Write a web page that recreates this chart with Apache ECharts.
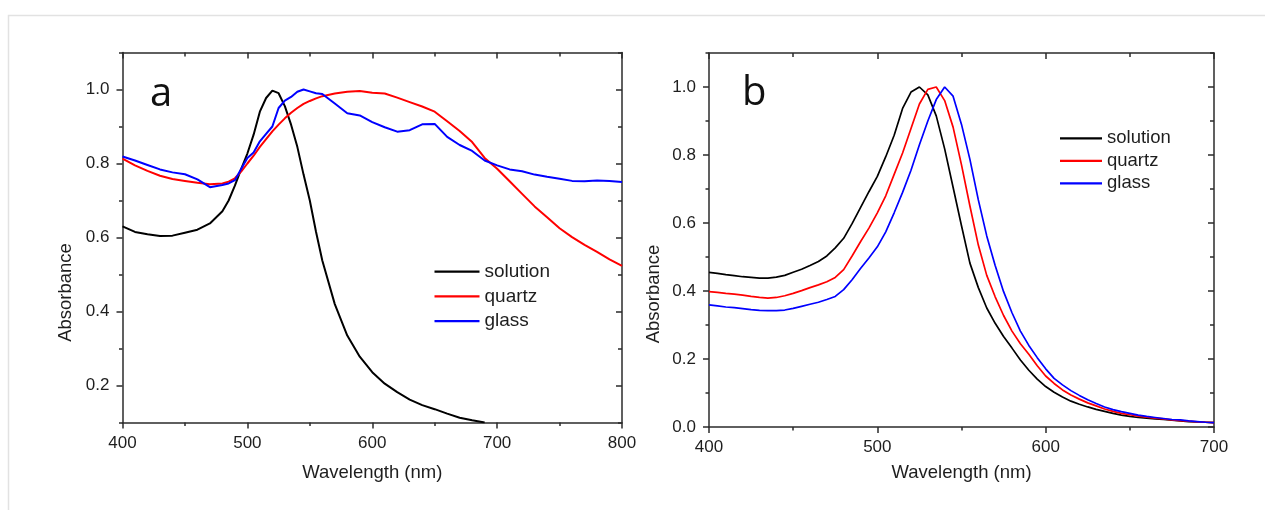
<!DOCTYPE html>
<html>
<head>
<meta charset="utf-8">
<title>Absorbance spectra</title>
<script src="https://cdn.jsdelivr.net/npm/echarts@6/dist/echarts.min.js"></script>
<style>
  html, body { margin: 0; padding: 0; background: #fff; }
  #chart { width: 1265px; height: 510px; }
</style>
</head>
<body>
<div id="chart"></div>
<script>
// 面板 a：实测吸收光谱 (nm / 吸光度)
const aWavelength = [400, 410, 420, 430, 440, 450, 460, 470, 480, 485, 490, 495, 500, 505, 510, 515, 520,
  525, 530, 535, 540, 545, 550, 555, 560, 570, 580, 590, 600, 610, 620, 630, 640, 650, 660, 670,
  680, 690, 700, 710, 720, 730, 740, 750, 760, 770, 780, 790, 800];
const aSolution = [0.630, 0.615, 0.609, 0.604, 0.605, 0.613, 0.621, 0.638, 0.671, 0.700, 0.740, 0.785,
  0.827, 0.878, 0.940, 0.977, 0.997, 0.990, 0.955, 0.905, 0.845, 0.770, 0.700, 0.615, 0.538, 0.420,
  0.335, 0.278, 0.236, 0.205, 0.182, 0.162, 0.147, 0.136, 0.124, 0.113, 0.106, 0.100,
  null, null, null, null, null, null, null, null, null, null, null];
const aQuartz = [0.813, 0.795, 0.780, 0.767, 0.758, 0.753, 0.748, 0.744, 0.746, 0.751, 0.760, 0.778,
  0.800, 0.821, 0.845, 0.866, 0.887, 0.905, 0.922, 0.937, 0.950, 0.961, 0.969, 0.976, 0.982, 0.989,
  0.994, 0.996, 0.991, 0.989, 0.978, 0.966, 0.954, 0.940, 0.914, 0.888, 0.858, 0.815, 0.786, 0.752,
  0.718, 0.684, 0.655, 0.625, 0.601, 0.580, 0.561, 0.541, 0.523];
const aGlass = [0.819, 0.808, 0.796, 0.784, 0.776, 0.771, 0.757, 0.736, 0.742, 0.746, 0.755, 0.785,
  0.815, 0.830, 0.860, 0.880, 0.900, 0.950, 0.970, 0.980, 0.994, 1.000, 0.995, 0.990, 0.988, 0.962,
  0.936, 0.930, 0.912, 0.898, 0.886, 0.890, 0.906, 0.907, 0.872, 0.850, 0.834, 0.808, 0.795, 0.784,
  0.779, 0.770, 0.764, 0.759, 0.753, 0.752, 0.754, 0.753, 0.750];

// 面板 b：计算光谱，每 5 nm 一个点
const bWavelength = [400, 405, 410, 415, 420, 425, 430, 435, 440, 445, 450, 455, 460, 465, 470, 475,
  480, 485, 490, 495, 500, 505, 510, 515, 520, 525, 530, 535, 540, 545, 550, 555, 560, 565, 570,
  575, 580, 585, 590, 595, 600, 605, 610, 615, 620, 625, 630, 635, 640, 645, 650, 655, 660, 665,
  670, 675, 680, 685, 690, 695, 700];
const bSolution = [0.455, 0.452, 0.448, 0.445, 0.442, 0.440, 0.438, 0.438, 0.441, 0.446, 0.455, 0.464,
  0.475, 0.487, 0.503, 0.527, 0.555, 0.598, 0.645, 0.692, 0.737, 0.795, 0.858, 0.937, 0.985, 1.000,
  0.977, 0.915, 0.818, 0.705, 0.592, 0.482, 0.410, 0.350, 0.305, 0.266, 0.232, 0.197, 0.167, 0.141,
  0.119, 0.102, 0.088, 0.076, 0.067, 0.059, 0.052, 0.046, 0.040, 0.035, 0.031, 0.028, 0.026, 0.024,
  0.022, 0.020, 0.018, 0.016, 0.015, 0.014, 0.013];
const bQuartz = [0.398, 0.396, 0.393, 0.391, 0.388, 0.384, 0.381, 0.379, 0.381, 0.386, 0.393, 0.401,
  0.410, 0.418, 0.427, 0.440, 0.463, 0.503, 0.545, 0.585, 0.630, 0.680, 0.743, 0.806, 0.878, 0.950,
  0.993, 1.000, 0.960, 0.882, 0.771, 0.650, 0.535, 0.446, 0.383, 0.328, 0.282, 0.245, 0.214, 0.180,
  0.150, 0.128, 0.109, 0.094, 0.082, 0.071, 0.062, 0.053, 0.046, 0.040, 0.036, 0.032, 0.029, 0.026,
  0.024, 0.021, 0.019, 0.017, 0.015, 0.014, 0.013];
const bGlass = [0.359, 0.356, 0.353, 0.351, 0.348, 0.345, 0.343, 0.342, 0.342, 0.344, 0.349, 0.355,
  0.361, 0.367, 0.375, 0.384, 0.404, 0.433, 0.466, 0.497, 0.530, 0.574, 0.630, 0.690, 0.755, 0.830,
  0.900, 0.963, 1.000, 0.973, 0.890, 0.787, 0.668, 0.562, 0.475, 0.398, 0.336, 0.282, 0.240, 0.204,
  0.171, 0.143, 0.124, 0.107, 0.093, 0.080, 0.069, 0.059, 0.051, 0.045, 0.040, 0.035, 0.031, 0.028,
  0.025, 0.022, 0.021, 0.018, 0.016, 0.014, 0.013];

// 坐标轴刻度标签
const aYTicks = [0.2, 0.4, 0.6, 0.8, 1.0];
const bYTicks = [0.0, 0.2, 0.4, 0.6, 0.8, 1.0];

const seriesNames = ['solution', 'quartz', 'glass'];
const seriesColors = ['#000000', '#ff0000', '#0000ff'];

(function () {
  const FONT = '"Liberation Sans", Arial, sans-serif';
  const AXIS_COLOR = '#2b2b2b';
  const TEXT_COLOR = '#1e1e1e';
  const lineStyle = { color: AXIS_COLOR, width: 1.5 };

  function pairs(xs, ys) {
    return xs.map((x, i) => [x, ys[i]]);
  }

  // 一个面板的 x 轴（底部带标签，顶部镜像）
  function xAxes(grid, min, max, nameGap) {
    const base = {
      type: 'value', gridIndex: grid, min: min, max: max, interval: 100,
      axisLine: { onZero: false, lineStyle: lineStyle },
      splitLine: { show: false },
      minorTick: { show: true, splitNumber: 2, length: 3.5, lineStyle: lineStyle }
    };
    return [
      Object.assign({}, base, {
        position: 'bottom',
        axisTick: { length: 6, lineStyle: lineStyle },
        axisLabel: { margin: 12, fontSize: 17, color: TEXT_COLOR, fontFamily: FONT },
        name: 'Wavelength (nm)', nameLocation: 'middle', nameGap: nameGap,
        nameTextStyle: { fontSize: 18.5, color: TEXT_COLOR, fontFamily: FONT }
      }),
      Object.assign({}, base, {
        position: 'top',
        axisTick: { inside: true, length: 6, lineStyle: lineStyle },
        minorTick: { show: true, splitNumber: 2, length: 4, lineStyle: lineStyle },
        axisLabel: { show: false }
      })
    ];
  }

  // 一个面板的 y 轴：左右各一条主刻度轴 + 一条 0.1 间隔的短刻度轴
  function yAxes(grid, min, majors, nameGap, namePad) {
    const base = {
      type: 'value', gridIndex: grid, min: min, max: 1.1, interval: 0.1,
      splitLine: { show: false }
    };
    return [
      Object.assign({}, base, {
        position: 'left',
        axisLine: { show: true, onZero: false, lineStyle: lineStyle },
        axisTick: { customValues: majors, length: 6, lineStyle: lineStyle },
        axisLabel: {
          customValues: majors, margin: 13, fontSize: 17, color: TEXT_COLOR, fontFamily: FONT,
          formatter: (v) => Number(v).toFixed(1)
        },
        name: 'Absorbance', nameLocation: 'middle', nameGap: nameGap,
        nameTextStyle: { fontSize: 18.5, color: TEXT_COLOR, fontFamily: FONT, padding: [0, namePad, 0, 0] }
      }),
      Object.assign({}, base, {
        position: 'left',
        axisLine: { show: false },
        axisTick: { length: 3.5, lineStyle: lineStyle },
        axisLabel: { show: false }
      }),
      Object.assign({}, base, {
        position: 'right',
        axisLine: { show: true, onZero: false, lineStyle: lineStyle },
        axisTick: { inside: true, customValues: majors, length: 6, lineStyle: lineStyle },
        axisLabel: { show: false }
      }),
      Object.assign({}, base, {
        position: 'right',
        axisLine: { show: false },
        axisTick: { inside: true, length: 4, lineStyle: lineStyle },
        axisLabel: { show: false }
      })
    ];
  }

  function lineSeries(name, color, data, xIdx, yIdx, width) {
    return {
      name: name, type: 'line', xAxisIndex: xIdx, yAxisIndex: yIdx,
      data: data, symbol: 'none', smooth: false, connectNulls: false,
      lineStyle: { color: color, width: width }, itemStyle: { color: color },
      emphasis: { disabled: true }, animation: false
    };
  }

  const aSets = [aSolution, aQuartz, aGlass];
  const bSets = [bSolution, bQuartz, bGlass];

  const series = [];
  seriesNames.forEach((name, i) => {
    series.push(lineSeries(name, seriesColors[i], pairs(aWavelength, aSets[i]), 0, 0, 2));
  });
  seriesNames.forEach((name, i) => {
    series.push(lineSeries(name, seriesColors[i], pairs(bWavelength, bSets[i]), 2, 4, 1.7));
  });

  // 图例用细长矩形代替折线图标
  function legend(left, top, width, gap, fontSize) {
    return {
      data: seriesNames.map((n) => ({ name: n, icon: 'rect' })),
      orient: 'vertical', left: left, top: top, padding: 0,
      itemWidth: width, itemHeight: 2.2, itemGap: gap, selectedMode: false,
      textStyle: { fontSize: fontSize, lineHeight: 20, color: TEXT_COLOR, fontFamily: FONT }
    };
  }

  const option = {
    backgroundColor: '#ffffff',
    animation: false,
    textStyle: { fontFamily: FONT },
    grid: [
      { left: 122.5, top: 52.5, width: 499.5, height: 370 },
      { left: 709, top: 53, width: 505, height: 374 }
    ],
    xAxis: xAxes(0, 400, 800, 41).concat(xAxes(1, 400, 700, 36)),
    yAxis: yAxes(0, 0.1, aYTicks, 47, 110).concat(yAxes(1, 0, bYTicks, 46, 108)),
    legend: [
      legend(434.5, 261.7, 45, 4.7, 19),
      legend(1060, 128.3, 42, 2.5, 18.5)
    ],
    graphic: [
      {
        type: 'polyline', silent: true,
        shape: { points: [[8.5, 510], [8.5, 15.5], [1265, 15.5]] },
        style: { stroke: '#e2e2e2', lineWidth: 1.5, fill: null }
      },
      {
        type: 'text', left: 150, top: 75, silent: true,
        style: { text: 'a', fontSize: 40, fontFamily: '"Open Sans", sans-serif', fill: '#111' }
      },
      {
        type: 'text', left: 742, top: 74, silent: true,
        style: { text: 'b', fontSize: 40, fontFamily: '"Open Sans", sans-serif', fill: '#111' }
      }
    ],
    series: series
  };

  const chart = echarts.init(document.getElementById('chart'), null, { renderer: 'canvas' });
  chart.setOption(option);
})();
</script>
</body>
</html>
